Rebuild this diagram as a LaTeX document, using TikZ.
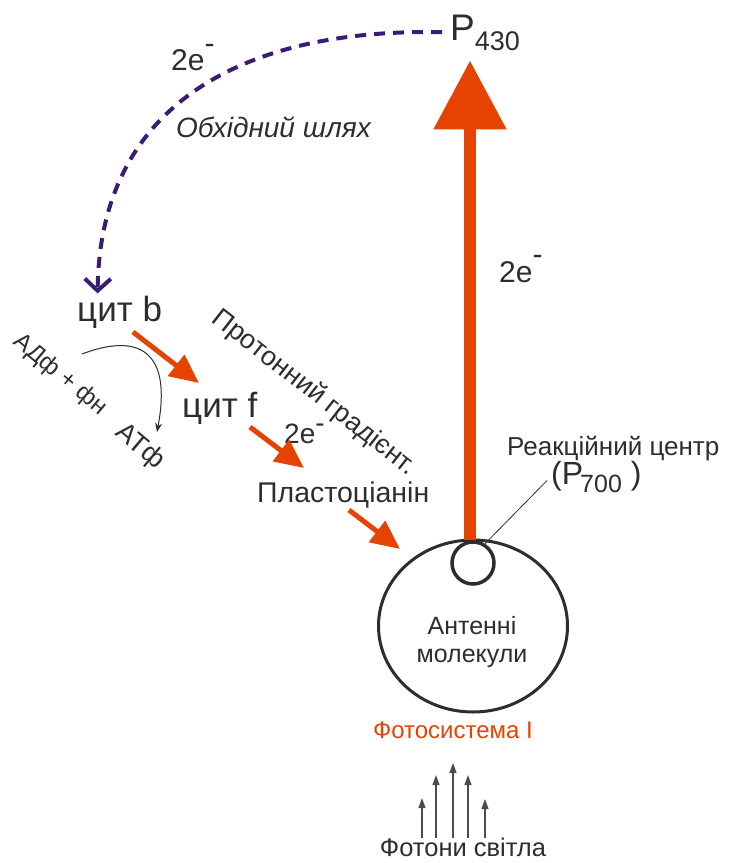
\documentclass[tikz,border=0pt]{standalone}
\usepackage{fontspec}
\setmainfont{Liberation Sans}
\usetikzlibrary{arrows.meta,shapes.geometric}
\definecolor{inkgray}{RGB}{45,45,45}
\definecolor{psorange}{RGB}{230,66,0}
\definecolor{bypasspurple}{RGB}{58,28,118}
\newcommand{\twoe}[1]{2e\raisebox{#1}{-}}

\begin{document}
\begin{tikzpicture}[x=1pt,y=-1pt]
\tikzset{
  txt/.style={inner sep=0pt,text=inkgray,font=\fontsize{#1}{#1}\selectfont},
  carrier/.style={txt=35},
  flow/.style={draw=psorange,line width=5pt,-{Triangle[length=29pt,width=26pt]}},
  bigflow/.style={draw=psorange,line width=12pt,-{Triangle[length=69pt,width=70pt]}},
  bypass/.style={draw=bypasspurple,line width=4pt,dash pattern=on 11pt off 8pt,-{Straight Barb[length=12pt,width=26pt]}},
  photon/.style={draw=inkgray!85,line width=1.2pt,-{Triangle[length=10pt,width=7pt]}},
  ring/.style={draw=inkgray,line width=3.5pt}
}
\useasboundingbox (0,0) rectangle (741,863);
\node[txt=37,anchor=base west] (n_P430) at (450,40) {P\raisebox{-10pt}{\fontsize{27}{27}\selectfont 430}};
\node[txt=30,anchor=base west] (n_e_top) at (171,70) {\twoe{17pt}};
\node[txt=28,anchor=base west,font=\itshape\fontsize{28}{28}\selectfont] (n_bypass) at (176,137) {Обхідний шлях};
\node[txt=30,anchor=base west] (n_e_up) at (499,282) {\twoe{18pt}};
\node[carrier,anchor=base west] (n_citb) at (77,321) {цит b};
\node[carrier,anchor=base west] (n_citf) at (182,417) {цит f};
\node[txt=28,anchor=base west] (n_e_mid) at (284,443) {\twoe{11pt}};
\node[txt=28.5,anchor=base west] (n_plast) at (257,502) {Пластоціанін};
\node[txt=27,rotate=-38] (n_grad) at (314,393) {Протонний градієнт.};
\node[txt=24,rotate=-40] (n_adp) at (60,375) {АДф + фн};
\node[txt=27,rotate=-40] (n_atp) at (140,447) {АТф};
\node[txt=26,anchor=base west] (n_rc) at (507,455) {Реакційний центр};
\node[txt=32,anchor=base west] (n_rcP) at (551,484) {(P\kern-3pt\raisebox{-8pt}{\fontsize{25}{25}\selectfont 700} )};
\node[ellipse,draw=inkgray,line width=3pt,minimum width=189pt,minimum height=172pt] (n_antenna) at (473,626) {};
\node[circle,ring,fill=white,minimum size=42pt] (n_P700) at (473,563) {};
\node[txt=25,align=center,font=\fontsize{25}{28}\selectfont] (n_antlbl) at (472,642) {Антенні\\молекули};
\node[txt=24,text=psorange,anchor=base] (n_PSI) at (453,738) {Фотосистема I};
\node[txt=25.5,anchor=base] (n_photons) at (463,856) {Фотони світла};
% electron carriers
\coordinate (c_f1a) at (133,332);
\coordinate (c_f1b) at (199,383);
\coordinate (c_f2a) at (250,427);
\coordinate (c_f2b) at (304,468);
\coordinate (c_f3a) at (349,510);
\coordinate (c_f3b) at (400,549);
\draw[flow] (c_f1a) -- (c_f1b);
\draw[flow] (c_f2a) -- (c_f2b);
\draw[flow] (c_f3a) -- (c_f3b);
\draw[bigflow,shorten >=10pt] ([xshift=-3pt]n_P700.north) -- ([xshift=-3pt]n_P700.north |- n_P430.south);
\draw[bypass,shorten <=8pt] (n_P430.west) .. controls (250,28) and (100,100) .. ([xshift=-22pt,yshift=2pt]n_citb.north);
% phosphorylation
\coordinate (c_adp) at (82,354);
\coordinate (c_atp) at (157,432);
\draw[line width=1pt,draw=inkgray,-{Stealth[length=9pt,width=7pt]}] (c_adp) .. controls (140,332) and (172,352) .. (c_atp);
\draw[line width=0.8pt,draw=inkgray] (n_P700.58) -- ([xshift=-4pt,yshift=-4pt]n_rcP.west);
% light
\foreach \i/\px/\tipy in {1/422/798,2/436/775,3/453/763,4/468/775,5/485/799}{
  \coordinate (ph_\i_a) at (\px,838);
  \coordinate (ph_\i_b) at (\px,\tipy);
  \draw[photon] (ph_\i_a) -- (ph_\i_b);
}
\end{tikzpicture}
\end{document}
